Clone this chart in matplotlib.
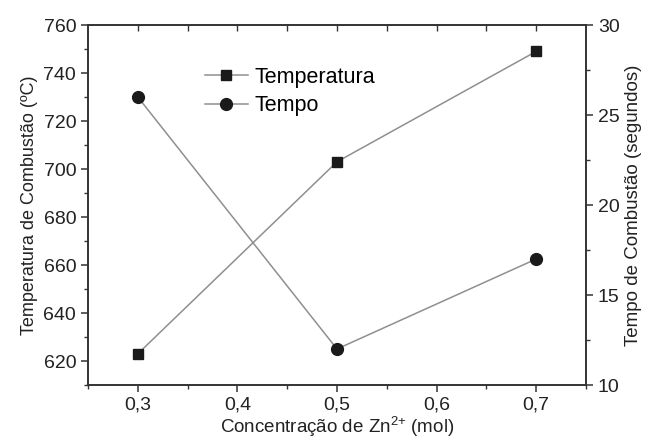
import matplotlib.pyplot as plt
from matplotlib.ticker import MultipleLocator, FuncFormatter

plt.rcParams['font.family'] = ['Liberation Sans', 'DejaVu Sans']
plt.rcParams['mathtext.fontset'] = 'custom'
plt.rcParams['mathtext.rm'] = 'Liberation Sans'
plt.rcParams['mathtext.default'] = 'regular'

conc = [0.3, 0.5, 0.7]
temperatura = [623, 703, 749]
tempo = [26, 12, 17]

fig = plt.figure(figsize=(6.45, 4.46), dpi=100)
ax = fig.add_axes([88 / 645, 1 - 385 / 446, (586 - 88) / 645, (385 - 25) / 446])
ax2 = ax.twinx()

l1, = ax.plot(conc, temperatura, color='#8f8f8f', lw=1.1, marker='s', ms=7.5,
              mfc='#1a1a1a', mec='#1a1a1a', label='Temperatura')
l2, = ax2.plot(conc, tempo, color='#8f8f8f', lw=1.1, marker='o', ms=8.5,
               mfc='#1a1a1a', mec='#1a1a1a', label='Tempo')

ax.set_xlim(0.25, 0.75)
ax.set_ylim(610, 760)
ax2.set_ylim(10, 30)

ax.xaxis.set_major_locator(MultipleLocator(0.1))
ax.xaxis.set_minor_locator(MultipleLocator(0.05))
ax.yaxis.set_major_locator(MultipleLocator(20))
ax.yaxis.set_minor_locator(MultipleLocator(10))
ax2.yaxis.set_major_locator(MultipleLocator(5))
ax2.yaxis.set_minor_locator(MultipleLocator(2.5))
ax.xaxis.set_major_formatter(FuncFormatter(lambda v, p: f"{v:.1f}".replace('.', ',')))

for a in (ax, ax2):
    for s in a.spines.values():
        s.set_color('#333333')
        s.set_linewidth(1.2)
ax.tick_params(axis='both', which='major', direction='out', length=5, width=1.1,
               labelsize=14, colors='#333333', labelcolor='#222222')
ax.tick_params(axis='both', which='minor', direction='out', length=3, width=1.0, colors='#333333')
ax2.tick_params(axis='y', which='major', direction='out', length=5, width=1.1,
                labelsize=14, colors='#333333', labelcolor='#222222')
ax2.tick_params(axis='y', which='minor', direction='out', length=3, width=1.0, colors='#333333')
sec = ax.secondary_xaxis('top')
sec.set_xticks([0.3, 0.35, 0.4, 0.45, 0.5, 0.55, 0.6, 0.65, 0.7])
sec.tick_params(direction='in', length=4, width=1.0, labeltop=False, colors='#333333')
sec.spines['top'].set_visible(False)

ax.set_xlabel('Concentração de Zn$^{2{+}}$ (mol)', fontsize=13.5, color='#222222', labelpad=1)
ax.set_ylabel('Temperatura de Combustão (ºC)', fontsize=13, color='#222222', labelpad=4)
ax2.set_ylabel('Tempo de Combustão (segundos)', fontsize=13.5, color='#222222', labelpad=4)

ax.legend(handles=[l1, l2], loc='upper left', bbox_to_anchor=(194 / 645, 1 - 56 / 446),
          bbox_transform=fig.transFigure, frameon=False, fontsize=15.5,
          handlelength=2.0, handletextpad=0.3, labelspacing=0.35, borderpad=0)

fig.savefig('out.png', dpi=100)
